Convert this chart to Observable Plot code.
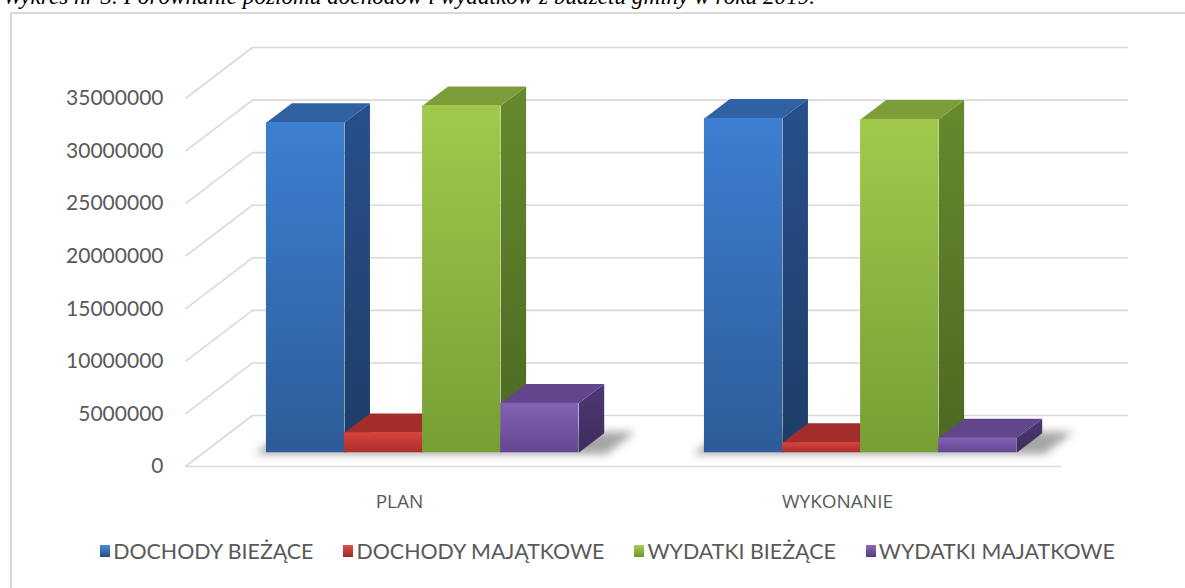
<!DOCTYPE html>
<html>
<head>
<meta charset="utf-8">
<script src="https://cdn.jsdelivr.net/npm/d3@7"></script>
<script src="https://cdn.jsdelivr.net/npm/@observablehq/plot@0.6"></script>
<style>
  html, body { margin: 0; padding: 0; background: #fff; }
  body { width: 1185px; height: 588px; overflow: hidden; position: relative; }
  #title { position: absolute; left: 3px; top: -15px; font: italic 23.2px "Liberation Serif", "Times New Roman", serif; color: #000; white-space: nowrap; line-height: 1; }
  #box { position: absolute; left: 10px; top: 12px; width: 1200px; height: 600px; border-left: 2px solid #D9D9D9; border-top: 2px solid #D9D9D9; }
  #chart { position: absolute; left: 0; top: 0; }
  #legend { position: absolute; left: 15px; top: 538px; width: 1185px; display: flex; justify-content: center; gap: 30px; font: 21.4px Lato, "Open Sans", sans-serif; color: #595959; }
  #legend .item { display: flex; align-items: center; white-space: nowrap; }
  #legend .sw { width: 10px; height: 12px; margin-right: 3px; display: inline-block; }
</style>
</head>
<body>
<div id="title">Wykres nr 3. Porównanie poziomu dochodów i wydatków z budżetu gminy w roku 2019.</div>
<div id="box"></div>
<div id="chart"></div>
<div id="legend"></div>
<script>
// ---- data ----
const categories = ["PLAN", "WYKONANIE"];
const series = ["DOCHODY BIEŻĄCE", "DOCHODY MAJĄTKOWE", "WYDATKI BIEŻĄCE", "WYDATKI MAJATKOWE"];
const planValues = [31400000, 1900000, 33000000, 4700000];
const wykonanieValues = [31800000, 950000, 31700000, 1400000];
const yTicks = [0, 5000000, 10000000, 15000000, 20000000, 25000000, 30000000, 35000000];

// ---- styling / 3D layout constants ----
const palette = [
  {front: ["#3D7FD2", "#2D5C98"], side: ["#27508A", "#1E3D68"], top: "#2F61A3", legend: ["#4A8BDA", "#24507F"]},
  {front: ["#D8433E", "#A92E2C"], side: ["#8A2422", "#6C1B1A"], top: "#A32D2B", legend: ["#E0504A", "#9B2A27"]},
  {front: ["#A0C94C", "#779E33"], side: ["#668A2D", "#4C6822"], top: "#7C9E3A", legend: ["#A8D055", "#6E9330"]},
  {front: ["#8362B4", "#634692"], side: ["#4E3874", "#3E2C5E"], top: "#62468B", legend: ["#8C6CBC", "#553C80"]}
];
const GAP = 1.61;             // gap between category groups, in bar widths
const NB = series.length;
const W = categories.length * (NB + GAP);
const DX = 0.858;             // full floor depth, x offset (bar widths)
const DY = 4.85e6;            // full floor depth, y offset (value units)
const T0 = 0.27, T1 = 0.65;   // bar depth range within floor

const valuesByCat = [planValues, wykonanieValues];
const bars = [];
categories.forEach((c, ci) => {
  series.forEach((s, si) => {
    const x0 = ci * (NB + GAP) + GAP / 2 + si + T0 * DX;
    bars.push({cat: c, s, si, v: valuesByCat[ci][si], x0, x1: x0 + 1, b0: T0 * DY, b1: T1 * DY});
  });
});
const dd = (T1 - T0) * DX;

// polygons built from the values
function topPoly(b) {
  const a = b.v + b.b0, t = b.v + b.b1;
  return [{x: b.x0, y: a}, {x: b.x1, y: a}, {x: b.x1 + dd, y: t}, {x: b.x0 + dd, y: t}];
}
function sidePoly(b) {
  return [{x: b.x1, y: b.b0}, {x: b.x1, y: b.v + b.b0}, {x: b.x1 + dd, y: b.v + b.b1}, {x: b.x1 + dd, y: b.b1}];
}
function shadowPoly(ci) {
  const gx0 = ci * (NB + GAP) + GAP / 2 + T0 * DX - 0.15;
  const gx1 = gx0 + NB + 0.15 + 0.35;
  const s0 = (T0 - 0.03) * DY, s1 = (T1 + 0.03) * DY;
  const ddd = (T1 + 0.06 - T0) * DX;
  return [{x: gx0, y: s0}, {x: gx1, y: s0}, {x: gx1 + ddd, y: s1}, {x: gx0 + ddd, y: s1}];
}

const marks = [
  // back wall gridlines
  Plot.ruleY(yTicks, {x1: () => DX, x2: () => W + DX, y: d => d + DY, stroke: "#D9D9D9", strokeWidth: 1.6}),
  // left wall diagonals
  Plot.link(yTicks, {x1: () => 0, y1: d => d, x2: () => DX, y2: d => d + DY, stroke: "#D9D9D9", strokeWidth: 1.6}),
  // floor front edge
  Plot.ruleY([0], {x1: () => 0, x2: () => W, stroke: "#D9D9D9", strokeWidth: 1.6}),
  Plot.axisY(yTicks, {tickSize: 0, tickPadding: 22, fontSize: 21, tickFormat: d => String(d), fill: "#595959"}),
  Plot.text(categories, {x: (d, i) => i * (NB + GAP) + (NB + GAP) / 2, y: () => 0, dx: -5, dy: 35, fontSize: 19, fontFamily: "'Open Sans', sans-serif", fill: "#595959", text: d => d})
];
// shadows
categories.forEach((c, ci) => {
  marks.push(Plot.line(shadowPoly(ci), {x: "x", y: "y", fill: "#010101", fillOpacity: 0.35, stroke: "none"}));
});
// side faces, then tops, then fronts (painter's order)
bars.forEach(b => {
  marks.push(Plot.line(sidePoly(b), {x: "x", y: "y", fill: `url(#side${b.si})`, stroke: "none"}));
});
bars.forEach(b => {
  marks.push(Plot.line(topPoly(b), {x: "x", y: "y", fill: palette[b.si].top, stroke: "none"}));
});
palette.forEach((p, si) => {
  marks.push(Plot.rect(bars.filter(b => b.si === si), {x1: "x0", x2: "x1", y1: "b0", y2: d => d.v + d.b0, fill: `url(#front${si})`}));
});

const svg = Plot.plot({
  width: 1185,
  height: 520,
  marginLeft: 185,
  marginRight: 124,
  marginTop: 98,
  marginBottom: 54,
  x: {domain: [0, W], axis: null},
  y: {domain: [0, 35000000], axis: null},
  style: {background: "transparent", fontFamily: "Lato, 'Open Sans', sans-serif", color: "#595959", overflow: "visible"},
  marks
});

// gradients + blur filter
let defs = '<defs><filter id="blur" x="-20%" y="-100%" width="140%" height="300%"><feGaussianBlur stdDeviation="4.5"/></filter>';
palette.forEach((p, i) => {
  defs += `<linearGradient id="front${i}" x1="0" y1="0" x2="0" y2="1"><stop offset="0" stop-color="${p.front[0]}"/><stop offset="1" stop-color="${p.front[1]}"/></linearGradient>`;
  defs += `<linearGradient id="side${i}" x1="0" y1="0" x2="0" y2="1"><stop offset="0" stop-color="${p.side[0]}"/><stop offset="1" stop-color="${p.side[1]}"/></linearGradient>`;
});
defs += '</defs>';
svg.insertAdjacentHTML("afterbegin", defs);
svg.querySelectorAll('g[fill="#010101"]').forEach(g => g.setAttribute("filter", "url(#blur)"));
document.getElementById("chart").appendChild(svg);

// legend
const legend = document.getElementById("legend");
series.forEach((s, i) => {
  const item = document.createElement("span");
  item.className = "item";
  const sw = document.createElement("span");
  sw.className = "sw";
  sw.style.background = `linear-gradient(${palette[i].legend[0]}, ${palette[i].legend[1]})`;
  item.appendChild(sw);
  item.appendChild(document.createTextNode(s));
  legend.appendChild(item);
});
</script>
</body>
</html>
